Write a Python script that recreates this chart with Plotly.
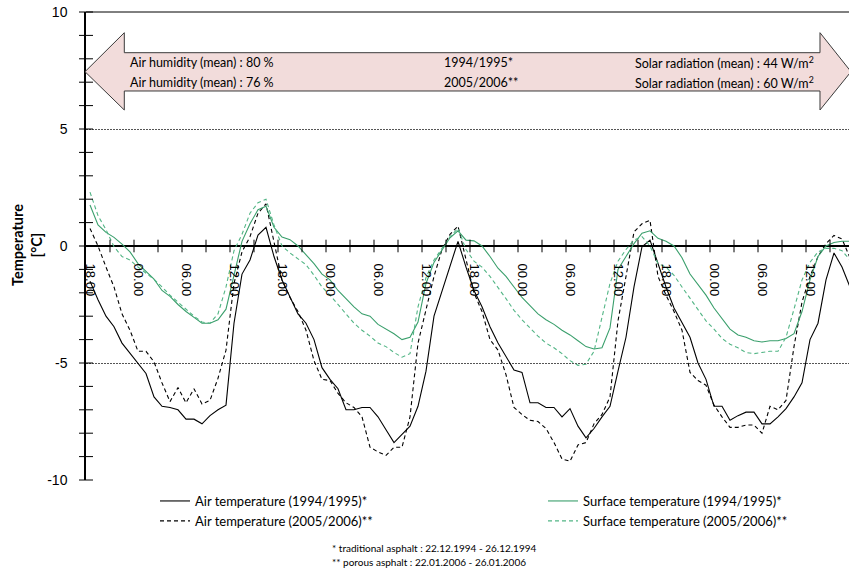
import plotly.graph_objects as go

# Hourly readings, starting 18:00 on the first day (96 hours)
hours = list(range(96))
tick_text = ["18.00", "00.00", "06.00", "12.00"] * 4
temp_ticks = [-10, -5, 0, 5, 10]
temp_tick_text = ["-10", "-5", "0", "5", "10"]

air_9495 = [
    -1.5, -2.3, -3.0, -3.45, -4.15, -4.6, -5.0, -5.45, -6.45, -6.85, -6.9, -7.0,
    -7.4, -7.4, -7.6, -7.25, -7.0, -6.8, -3.3, -1.2, -0.6, 0.47, 0.8, -0.45,
    -1.45, -2.2, -2.9, -3.3, -4.0, -5.2, -5.7, -6.1, -7.0, -7.0, -6.9, -6.9,
    -7.3, -7.85, -8.4, -8.05, -7.7, -6.85, -5.35, -3.0, -1.9, -0.9, 0.2, -0.9,
    -1.9, -2.6, -3.45, -4.15, -4.7, -5.3, -5.4, -6.7, -6.7, -6.9, -6.9, -7.3,
    -6.95, -7.7, -8.2, -7.8, -7.3, -6.85, -5.35, -3.9, -1.75, -0.03, 0.25, -0.75,
    -1.75, -2.65, -3.3, -3.9, -5.0, -5.7, -6.85, -6.85, -7.45, -7.25, -7.1, -7.1,
    -7.6, -7.6, -7.3, -6.95, -6.45, -5.85, -4.0, -3.3, -1.45, -0.3, -0.9, -1.75,
]
air_0506 = [
    0.75, 0.0, -0.9, -1.75, -2.9, -3.6, -4.5, -4.5, -4.95, -5.85, -6.65, -6.05,
    -6.7, -6.1, -6.75, -6.6, -5.65, -4.45, -1.6, -0.25, 0.4, 1.4, 1.8, 0.1,
    -1.45, -2.2, -2.8, -3.6, -4.9, -5.7, -5.75, -6.3, -6.7, -6.9, -7.3, -8.6,
    -8.8, -8.95, -8.6, -8.6, -7.3, -4.15, -2.75, -1.3, -0.15, 0.5, 0.85, -0.6,
    -2.0, -2.8, -4.0, -4.45, -5.5, -6.9, -7.2, -7.45, -7.5, -7.8, -8.4, -9.1,
    -9.2, -8.5, -8.4, -7.6, -7.2, -6.45, -3.2, -1.3, 0.6, 0.95, 1.1, -1.3,
    -2.1, -2.8, -3.6, -5.4, -5.75, -5.95, -6.8, -7.3, -7.75, -7.75, -7.65, -7.65,
    -8.0, -6.85, -7.0, -6.6, -4.3, -2.4, -1.3, -0.45, 0.1, 0.45, 0.3, -0.5,
]
surf_9495 = [
    1.75, 0.9, 0.58, 0.37, 0.08, -0.25, -0.75, -1.1, -1.42, -1.9, -2.15, -2.5,
    -2.8, -3.05, -3.3, -3.3, -3.15, -2.7, -1.2, 0.2, 0.95, 1.55, 1.7, 0.8,
    0.38, 0.27, 0.0, -0.37, -0.75, -1.2, -1.45, -1.9, -2.25, -2.6, -2.9, -3.0,
    -3.35, -3.55, -3.75, -4.0, -3.9, -3.25, -1.6, -0.7, -0.2, 0.35, 0.65, 0.25,
    0.22, 0.0, -0.45, -0.95, -1.3, -1.75, -2.2, -2.55, -2.9, -3.15, -3.35, -3.6,
    -3.8, -4.05, -4.3, -4.4, -4.35, -3.5, -1.0, -0.45, 0.1, 0.55, 0.65, 0.33,
    0.2, 0.0, -0.5, -1.2, -1.65, -2.1, -2.65, -3.1, -3.55, -3.8, -3.9, -4.05,
    -4.1, -4.05, -4.05, -3.95, -3.75, -2.8, -1.45, -0.45, 0.0, 0.15, 0.2, 0.2,
]
surf_0506 = [
    2.3, 1.3, 0.7, -0.03, -0.45, -0.6, -0.9, -1.15, -1.42, -1.75, -2.1, -2.4,
    -2.7, -3.0, -3.25, -3.3, -2.9, -1.75, -0.2, 0.5, 1.4, 1.85, 2.0, 0.9,
    0.0, -0.3, -0.55, -0.8, -1.25, -1.75, -2.1, -2.5, -2.9, -3.3, -3.6, -3.85,
    -4.15, -4.3, -4.55, -4.75, -4.6, -2.6, -1.35, -0.6, -0.1, 0.4, 0.75, -0.15,
    -0.65, -0.9, -1.3, -1.75, -2.25, -2.75, -3.15, -3.5, -3.85, -4.15, -4.35, -4.6,
    -4.9, -5.1, -5.05, -4.5, -3.0, -1.6, -0.65, -0.15, 0.25, 0.4, 0.0, -0.75,
    -0.9, -1.25, -1.75, -2.25, -2.75, -3.2, -3.55, -3.95, -4.2, -4.35, -4.55, -4.6,
    -4.55, -4.5, -4.5, -3.9, -2.7, -1.45, -0.7, -0.25, -0.1, -0.1, -0.2, -0.6,
]

# Page and plot-area geometry (pixels)
W, H = 849, 580
ML, MR, MT, MB = 86, 0, 12, 100
PW, PH = W - ML - MR, H - MT - MB
HOUR_PX = 8


def px(x):
    return (x - ML) / PW


def py(y):
    return (H - MB - y) / PH


GREEN = "#3a9f6c"
GREEN_LIGHT = "#52b585"
TEXT_FONT = "Lato, 'Open Sans', sans-serif"
TICK_FONT = "'Liberation Sans', Arial, sans-serif"

fig = go.Figure()

fig.add_trace(go.Scatter(
    x=hours, y=air_9495, mode="lines", name="Air temperature (1994/1995)*",
    line=dict(color="black", width=1.1), legend="legend",
))
fig.add_trace(go.Scatter(
    x=hours, y=air_0506, mode="lines", name="Air temperature (2005/2006)**",
    line=dict(color="black", width=1.1, dash="4px,3px"), legend="legend",
))
fig.add_trace(go.Scatter(
    x=hours, y=surf_9495, mode="lines", name="Surface temperature (1994/1995)*",
    line=dict(color=GREEN, width=1.1), legend="legend2",
))
fig.add_trace(go.Scatter(
    x=hours, y=surf_0506, mode="lines", name="Surface temperature (2005/2006)**",
    line=dict(color=GREEN_LIGHT, width=1.1, dash="4px,3px"), legend="legend2",
))

# Crossing tick marks on both axes
x_marks = [-0.5 + 3 * k for k in range(1, 32)]
fig.add_trace(go.Scatter(
    x=x_marks, y=[0] * len(x_marks), mode="markers", showlegend=False,
    hoverinfo="skip", cliponaxis=False,
    marker=dict(symbol="line-ns", size=9, line=dict(width=1, color="black")),
))
y_marks = list(range(-10, 11))
fig.add_trace(go.Scatter(
    x=[-0.5] * len(y_marks), y=y_marks, mode="markers", showlegend=False,
    hoverinfo="skip", cliponaxis=False,
    marker=dict(symbol="line-ew", size=10, line=dict(width=1, color="black")),
))

# Double-headed arrow banner
tip_l, tip_r = (85, 71.7), (851, 71.7)
head_l, head_r = 124.3, 820
head_top, body_top, body_bot, head_bot = 32.7, 52.7, 91, 110
pts = [
    tip_l, (head_l, head_top), (head_l, body_top), (head_r, body_top),
    (head_r, head_top), tip_r, (head_r, head_bot), (head_r, body_bot),
    (head_l, body_bot), (head_l, head_bot),
]
path = "M " + " L ".join(f"{px(a):.5f},{py(b):.5f}" for a, b in pts) + " Z"
fig.add_shape(type="path", path=path, xref="paper", yref="paper",
              fillcolor="#f2dcdb", line=dict(color="#3a3a3a", width=1),
              layer="above")

# Solid frame line along the top
fig.add_shape(type="line", xref="paper", yref="paper", x0=0, x1=1, y0=1, y1=1,
              line=dict(color="black", width=1))

banner = [
    ("Air humidity (mean) : 80 %", 127.7, 63, "left"),
    ("Air humidity (mean) : 76 %", 127.7, 82, "left"),
    ("1994/1995*", 441.5, 63, "left"),
    ("2005/2006**", 441.5, 82, "left"),
    ("Solar radiation (mean) : 44 W/m<sup>2</sup>", 816, 63, "right"),
    ("Solar radiation (mean) : 60 W/m<sup>2</sup>", 816, 82, "right"),
]
for text, x, y, anchor in banner:
    fig.add_annotation(text=text, x=px(x), y=py(y), xref="paper", yref="paper",
                       xanchor=anchor, yanchor="middle", showarrow=False,
                       font=dict(family=TEXT_FONT, size=12.5, color="black"))

fig.add_annotation(text="<b>Temperature<br>[°C]</b>", x=px(27), y=py(245),
                   xref="paper", yref="paper", textangle=-90, showarrow=False,
                   xanchor="center", yanchor="middle",
                   font=dict(family=TEXT_FONT, size=14.5, color="black"))

notes = [
    ("* traditional asphalt : 22.12.1994 - 26.12.1994", 548),
    ("** porous asphalt : 22.01.2006 - 26.01.2006", 562),
]
for text, y in notes:
    fig.add_annotation(text=text, x=px(330), y=py(y), xref="paper", yref="paper",
                       xanchor="left", yanchor="middle", showarrow=False,
                       font=dict(family=TEXT_FONT, size=10, color="black"))

legend_style = dict(
    orientation="v", xanchor="left", yanchor="top", bgcolor="rgba(0,0,0,0)",
    font=dict(family=TEXT_FONT, size=13, color="black"), itemwidth=30,
    tracegroupgap=0, xref="paper", yref="paper",
)

fig.update_layout(
    width=W, height=H,
    margin=dict(l=ML, r=MR, t=MT, b=MB, pad=0),
    paper_bgcolor="white", plot_bgcolor="white",
    showlegend=True,
    legend=dict(x=px(155), y=py(486), **legend_style),
    legend2=dict(x=px(543), y=py(486), **legend_style),
    xaxis=dict(
        range=[-0.5, -0.5 + PW / HOUR_PX],
        tickmode="array", tickvals=hours[::6], ticktext=tick_text,
        tickangle=90, ticks="outside", ticklen=14, tickcolor="rgba(0,0,0,0)",
        tickfont=dict(family=TICK_FONT, size=13, color="black"),
        showgrid=False, zeroline=False, showline=False,
        anchor="free", position=0.5,
    ),
    yaxis=dict(
        range=[-10, 10], tickmode="array", tickvals=temp_ticks,
        ticktext=temp_tick_text,
        ticks="outside", ticklen=14, tickcolor="rgba(0,0,0,0)",
        tickfont=dict(family=TICK_FONT, size=14, color="black"),
        showgrid=True, gridcolor="#555555", griddash="2px,1px", gridwidth=1,
        zeroline=True, zerolinecolor="black", zerolinewidth=1.5,
        showline=True, linecolor="black", linewidth=1.5,
    ),
)

fig.write_html("out.html")
